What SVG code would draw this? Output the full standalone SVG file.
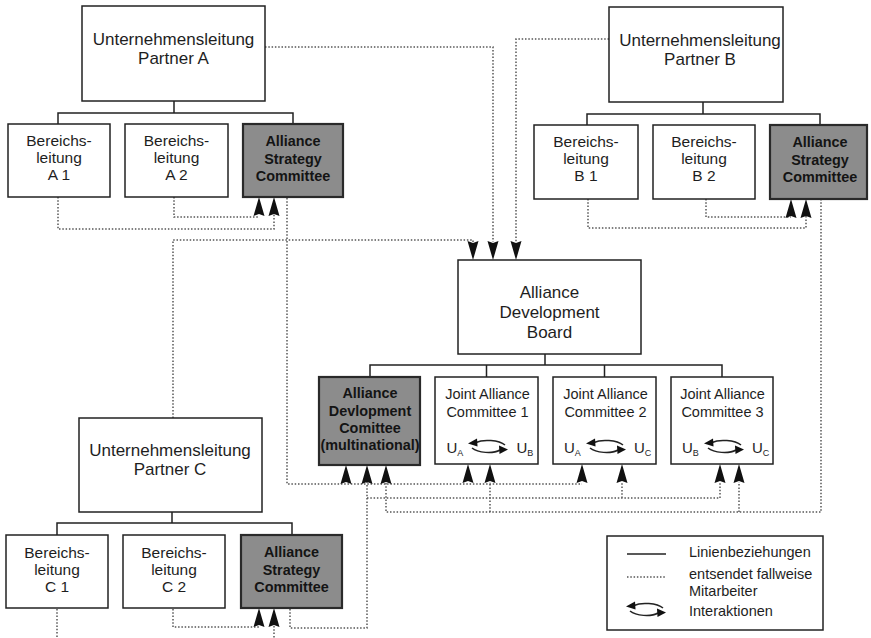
<svg xmlns="http://www.w3.org/2000/svg" xmlns:xlink="http://www.w3.org/1999/xlink" width="871" height="638" viewBox="0 0 871 638">
<style>
.box{fill:#fff;stroke:#222;stroke-width:1.5}
.gbox{fill:#8c8c8c;stroke:#2a2a2a;stroke-width:2.2}
.t{font-family:"Liberation Sans",Arial,sans-serif;fill:#1e1e1e;text-anchor:middle}
.s{font-family:"Liberation Sans",Arial,sans-serif;fill:#1e1e1e;text-anchor:start}
.big{font-size:17px}
.adb{font-size:17px}
.mid{font-size:15.5px}
.b{font-size:14.4px;font-weight:bold;fill:#141414}
.j{font-size:14.5px}
.u{font-size:15px}
.sub{font-size:9px}
.lg{font-size:14.5px}
.solid{fill:none;stroke:#222;stroke-width:1.5}
.dot{fill:none;stroke:#555;stroke-width:1.5;stroke-dasharray:1.5 1.8}
.ah{fill:#111}
.ic{fill:none;stroke:#222;stroke-width:1.5}
.ich{fill:#111}
</style>
<defs>
<path id="up" class="ah" d="M0,0 L5.5,19 L0,17 L-5.5,19 Z"/>
<path id="down" class="ah" d="M0,0 L5.5,-19 L0,-17 L-5.5,-19 Z"/>
<g id="ia">
<path class="ic" d="M17,-2 C11,-7 -5,-8 -12,-4.5"/>
<path class="ich" d="M-20,-3.5 L-11,-8.5 L-10.5,-0.5 Z"/>
<path class="ic" d="M-16,1 C-10,6 5,7 12,3"/>
<path class="ich" d="M20,2.5 L11,-1.5 L11.5,7 Z"/>
</g>
</defs>

<g id="connectors">
<path class="solid" d="M174,101 V113 M58,124 V113 H293 V124"/>
<path class="solid" d="M703,102 V114 M587,125 V114 H820 V125"/>
<path class="solid" d="M172,512 V523 M57,535 V523 H292 V535"/>
<path class="solid" d="M545,354 V365 M370,377 V365 H722 V377 M486.5,365 V377 M604.5,365 V377"/>

<path class="dot" d="M58,197 V229 H274 V214"/>
<path class="dot" d="M174,197 V217 H259"/>
<path class="dot" d="M287,198 V484 H582"/>
<path class="dot" d="M265,47 H493 V242"/>
<path class="dot" d="M609,39 H516 V242"/>
<path class="dot" d="M173,418 V240 H473 V242"/>
<path class="dot" d="M588,199 V228 H806 V216"/>
<path class="dot" d="M706,199 V217 H791"/>
<path class="dot" d="M821,199 V512 H386 V482"/>
<path class="dot" d="M490,512 V482 M739,512 V482"/>
<path class="dot" d="M290,609 V628 H367 V482"/>
<path class="dot" d="M367,498 H720 V482 M622,498 V482"/>
<path class="dot" d="M57,609 V638"/>
<path class="dot" d="M173,609 V627 H259"/>
<path class="dot" d="M274,626 V638"/>

<use xlink:href="#up" x="259" y="197"/>
<use xlink:href="#up" x="274" y="197"/>
<use xlink:href="#up" x="791" y="199"/>
<use xlink:href="#up" x="806" y="199"/>
<use xlink:href="#up" x="259" y="608"/>
<use xlink:href="#up" x="274" y="608"/>
<use xlink:href="#up" x="346" y="465"/>
<use xlink:href="#up" x="367" y="465"/>
<use xlink:href="#up" x="386" y="465"/>
<use xlink:href="#up" x="468" y="464"/>
<use xlink:href="#up" x="490" y="464"/>
<use xlink:href="#up" x="582" y="464"/>
<use xlink:href="#up" x="622" y="464"/>
<use xlink:href="#up" x="720" y="464"/>
<use xlink:href="#up" x="739" y="464"/>
<use xlink:href="#down" x="473" y="260"/>
<use xlink:href="#down" x="493" y="260"/>
<use xlink:href="#down" x="516" y="260"/>
</g>

<g id="partnerA">
<rect class="box" x="82" y="6" width="183" height="95"/>
<text class="t big" x="173.5" y="45">Unternehmensleitung</text>
<text class="t big" x="173.5" y="64">Partner A</text>
</g>
<g id="bereichA1">
<rect class="box" x="8" y="124" width="102" height="73"/>
<text class="t mid" x="59" y="146">Bereichs-</text>
<text class="t mid" x="59" y="163">leitung</text>
<text class="t mid" x="59" y="180">A 1</text>
</g>
<g id="bereichA2">
<rect class="box" x="125" y="124" width="103" height="73"/>
<text class="t mid" x="176.5" y="146">Bereichs-</text>
<text class="t mid" x="176.5" y="163">leitung</text>
<text class="t mid" x="176.5" y="180">A 2</text>
</g>
<g id="ascA">
<rect class="gbox" x="243" y="124" width="100" height="73"/>
<text class="t b" x="293" y="146">Alliance</text>
<text class="t b" x="293" y="164">Strategy</text>
<text class="t b" x="293" y="181">Committee</text>
</g>

<g id="partnerB">
<rect class="box" x="609" y="7" width="174" height="95"/>
<text class="t big" x="700" y="46">Unternehmensleitung</text>
<text class="t big" x="700" y="65">Partner B</text>
</g>
<g id="bereichB1">
<rect class="box" x="534" y="125" width="104" height="74"/>
<text class="t mid" x="586" y="147">Bereichs-</text>
<text class="t mid" x="586" y="164">leitung</text>
<text class="t mid" x="586" y="181">B 1</text>
</g>
<g id="bereichB2">
<rect class="box" x="653" y="125" width="102" height="74"/>
<text class="t mid" x="704" y="147">Bereichs-</text>
<text class="t mid" x="704" y="164">leitung</text>
<text class="t mid" x="704" y="181">B 2</text>
</g>
<g id="ascB">
<rect class="gbox" x="770" y="125" width="97" height="74"/>
<text class="t b" x="820" y="147">Alliance</text>
<text class="t b" x="820" y="165">Strategy</text>
<text class="t b" x="820" y="182">Committee</text>
</g>

<g id="adb">
<rect class="box" x="458" y="260" width="183" height="94"/>
<text class="t adb" x="549.5" y="298">Alliance</text>
<text class="t adb" x="549.5" y="318">Development</text>
<text class="t adb" x="549.5" y="338">Board</text>
</g>
<g id="adc">
<rect class="gbox" x="319" y="377" width="101" height="88"/>
<text class="t b" x="370" y="398">Alliance</text>
<text class="t b" x="370" y="416">Devlopment</text>
<text class="t b" x="370" y="433">Comittee</text>
<text class="t b" x="370" y="450">(multinational)</text>
</g>
<g id="jac1">
<rect class="box" x="435" y="377" width="103" height="87"/>
<text class="t j" x="487.5" y="399">Joint Alliance</text>
<text class="t j" x="487.5" y="417">Committee 1</text>
<text class="s u" x="446.5" y="453">U<tspan class="sub" dy="3">A</tspan></text>
<text class="s u" x="516.5" y="453">U<tspan class="sub" dy="3">B</tspan></text>
<use xlink:href="#ia" x="488" y="447"/>
</g>
<g id="jac2">
<rect class="box" x="553" y="377" width="103" height="87"/>
<text class="t j" x="605.5" y="399">Joint Alliance</text>
<text class="t j" x="605.5" y="417">Committee 2</text>
<text class="s u" x="564" y="453">U<tspan class="sub" dy="3">A</tspan></text>
<text class="s u" x="634" y="453">U<tspan class="sub" dy="3">C</tspan></text>
<use xlink:href="#ia" x="606" y="447"/>
</g>
<g id="jac3">
<rect class="box" x="671" y="377" width="102" height="87"/>
<text class="t j" x="722.5" y="399">Joint Alliance</text>
<text class="t j" x="722.5" y="417">Committee 3</text>
<text class="s u" x="682" y="453">U<tspan class="sub" dy="3">B</tspan></text>
<text class="s u" x="752" y="453">U<tspan class="sub" dy="3">C</tspan></text>
<use xlink:href="#ia" x="724" y="447"/>
</g>

<g id="partnerC">
<rect class="box" x="79" y="418" width="183" height="94"/>
<text class="t big" x="170" y="456">Unternehmensleitung</text>
<text class="t big" x="170" y="475">Partner C</text>
</g>
<g id="bereichC1">
<rect class="box" x="6" y="535" width="102" height="73"/>
<text class="t mid" x="57" y="558">Bereichs-</text>
<text class="t mid" x="57" y="575">leitung</text>
<text class="t mid" x="57" y="592">C 1</text>
</g>
<g id="bereichC2">
<rect class="box" x="123" y="535" width="102" height="73"/>
<text class="t mid" x="174" y="558">Bereichs-</text>
<text class="t mid" x="174" y="575">leitung</text>
<text class="t mid" x="174" y="592">C 2</text>
</g>
<g id="ascC">
<rect class="gbox" x="241" y="535" width="101" height="73"/>
<text class="t b" x="291.5" y="557">Alliance</text>
<text class="t b" x="291.5" y="575">Strategy</text>
<text class="t b" x="291.5" y="592">Committee</text>
</g>

<g id="legend">
<rect class="box" x="607" y="536" width="216" height="94"/>
<path class="solid" d="M627,554 H666"/>
<path class="dot" d="M627,577 H666"/>
<use xlink:href="#ia" x="646" y="610"/>
<text class="s lg" x="689" y="557">Linienbeziehungen</text>
<text class="s lg" x="689" y="579">entsendet fallweise</text>
<text class="s lg" x="689" y="596">Mitarbeiter</text>
<text class="s lg" x="689" y="616">Interaktionen</text>
</g>
</svg>
